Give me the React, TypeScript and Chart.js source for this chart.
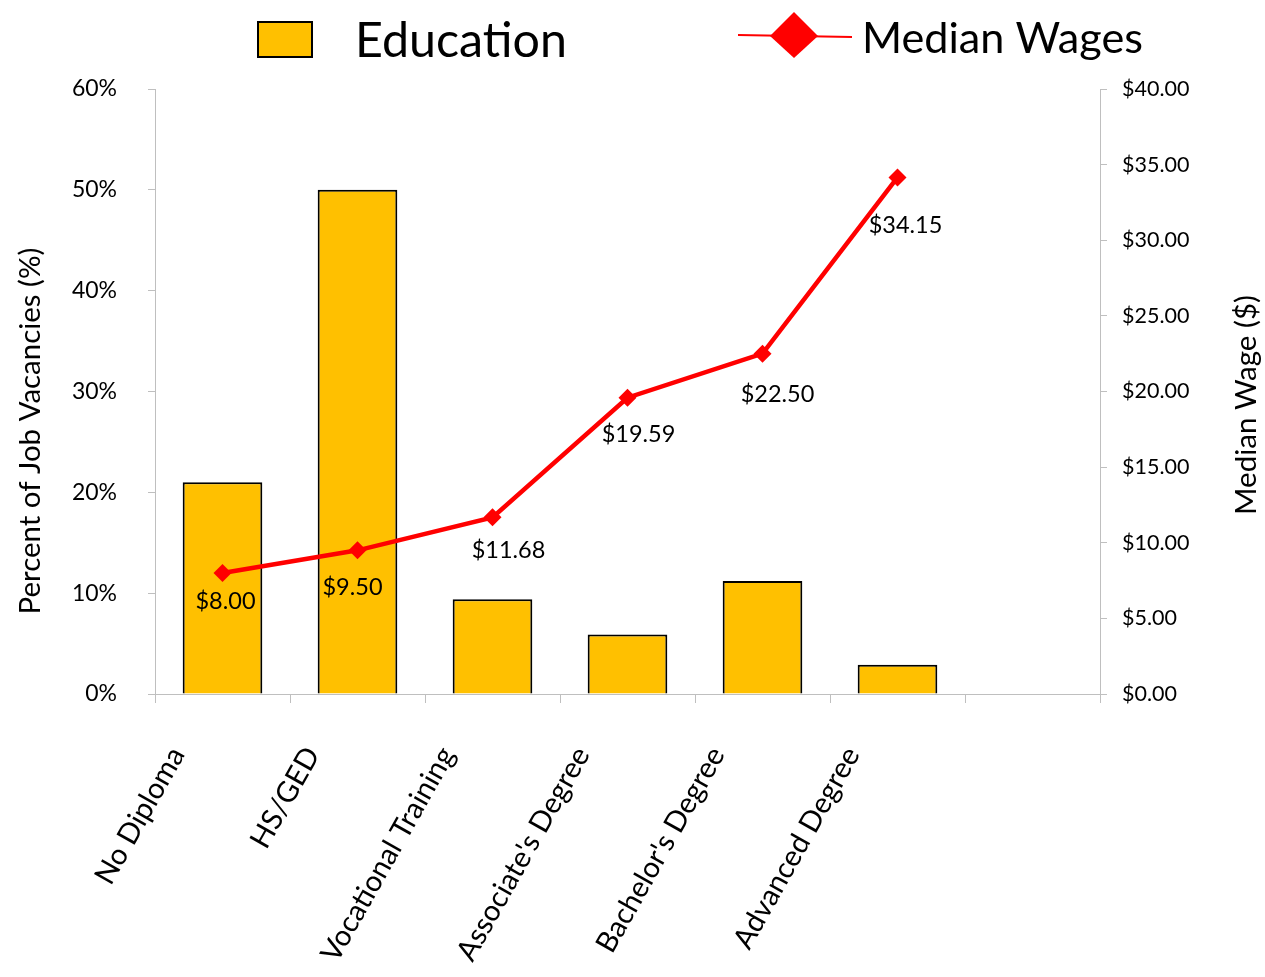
import React, { useEffect, useRef } from "react";
import { Chart, registerables } from "chart.js";

Chart.register(...registerables);

const categories = [
  "No Diploma",
  "HS/GED",
  "Vocational Training",
  "Associate's Degree",
  "Bachelor's Degree",
  "Advanced Degree",
  "",
];
const educationShare = [21, 50, 9.4, 5.9, 11.2, 2.9, null];
const medianWages = [8.0, 9.5, 11.68, 19.59, 22.5, 34.15, null];
const wageLabels = ["$8.00", "$9.50", "$11.68", "$19.59", "$22.50", "$34.15"];
const wageLabelNudge = [
  [3, 28],
  [-5, 37],
  [16, 33],
  [11, 37],
  [15, 41],
  [8, 48],
];

const FONT = "Lato, 'Open Sans', sans-serif";
const GRAY = "#BFBFBF";
const BAR_FILL = "#FFC000";
const LINE_RED = "#FF0000";

function fitFontSize(ctx: CanvasRenderingContext2D, text: string, width: number) {
  ctx.font = `100px ${FONT}`;
  const w = ctx.measureText(text).width;
  return (100 * width) / w;
}

const decorPlugin = {
  id: "decor",
  afterDatasetsDraw(chart: any) {
    const ctx: CanvasRenderingContext2D = chart.ctx;
    const meta = chart.getDatasetMeta(1);
    ctx.save();
    ctx.fillStyle = "#000";
    ctx.font = `23.5px ${FONT}`;
    ctx.textAlign = "center";
    ctx.textBaseline = "middle";
    meta.data.forEach((pt: any, i: number) => {
      if (i >= wageLabels.length) return;
      const [dx, dy] = wageLabelNudge[i];
      ctx.fillText(wageLabels[i], pt.x + dx, pt.y + dy);
    });
    ctx.restore();
  },
  afterDraw(chart: any) {
    const ctx: CanvasRenderingContext2D = chart.ctx;
    ctx.save();
    // Legend: Education
    ctx.fillStyle = BAR_FILL;
    ctx.strokeStyle = "#000";
    ctx.lineWidth = 2;
    ctx.fillRect(258, 22, 54, 35);
    ctx.strokeRect(258, 22, 54, 35);
    ctx.fillStyle = "#000";
    ctx.textBaseline = "alphabetic";
    ctx.textAlign = "left";
    let fs = fitFontSize(ctx, "Education", 212);
    ctx.font = `${fs}px ${FONT}`;
    ctx.fillText("Education", 355, 57);
    // Legend: Median Wages
    ctx.strokeStyle = LINE_RED;
    ctx.lineWidth = 2;
    ctx.beginPath();
    ctx.moveTo(738, 35);
    ctx.lineTo(852, 37);
    ctx.stroke();
    ctx.fillStyle = LINE_RED;
    ctx.beginPath();
    ctx.moveTo(794, 12);
    ctx.lineTo(818, 36);
    ctx.lineTo(794, 58);
    ctx.lineTo(770, 36);
    ctx.closePath();
    ctx.fill();
    ctx.fillStyle = "#000";
    fs = fitFontSize(ctx, "Median Wages", 281);
    ctx.font = `${fs}px ${FONT}`;
    ctx.fillText("Median Wages", 862, 53);

    // Axis titles
    ctx.textAlign = "center";
    ctx.textBaseline = "middle";
    fs = fitFontSize(ctx, "Percent of Job Vacancies (%)", 367);
    ctx.font = `${fs}px ${FONT}`;
    ctx.translate(31, 431);
    ctx.rotate(-Math.PI / 2);
    ctx.fillText("Percent of Job Vacancies (%)", 0, 0);
    ctx.setTransform(1, 0, 0, 1, 0, 0);
    fs = fitFontSize(ctx, "Median Wage ($)", 220);
    ctx.font = `${fs}px ${FONT}`;
    ctx.translate(1246, 405);
    ctx.rotate(-Math.PI / 2);
    ctx.fillText("Median Wage ($)", 0, 0);
    ctx.restore();
  },
};

export default function App() {
  const canvasRef = useRef<HTMLCanvasElement | null>(null);

  useEffect(() => {
    if (!canvasRef.current) return;
    const chart = new Chart(canvasRef.current, {
      type: "bar",
      data: {
        labels: categories,
        datasets: [
          {
            type: "bar",
            label: "Education",
            data: educationShare,
            backgroundColor: BAR_FILL,
            borderColor: "#000",
            borderWidth: 2,
            yAxisID: "y",
            categoryPercentage: 1,
            barPercentage: 0.59,
            order: 2,
          },
          {
            type: "line",
            label: "Median Wages",
            data: medianWages,
            borderColor: LINE_RED,
            backgroundColor: LINE_RED,
            borderWidth: 4.5,
            pointStyle: "rectRot",
            pointRadius: 9,
            pointBorderWidth: 0,
            pointBackgroundColor: LINE_RED,
            yAxisID: "y2",
            tension: 0,
            order: 1,
          },
        ],
      },
      options: {
        animation: false,
        responsive: true,
        maintainAspectRatio: false,
        layout: { padding: { top: 89, left: 0, right: 0, bottom: 0 } },
        plugins: {
          legend: { display: false },
          tooltip: { enabled: false },
        },
        scales: {
          x: {
            offset: true,
            grid: {
              offset: true,
              drawOnChartArea: false,
              tickLength: 9,
              color: GRAY,
            },
            border: { color: GRAY },
            ticks: {
              autoSkip: false,
              minRotation: 60.5,
              maxRotation: 60.5,
              padding: 38,
              labelOffset: -45,
              color: "#000",
              font: { family: FONT, size: 29 },
            },
            afterFit(scale: any) {
              scale.height = 283;
            },
          },
          y: {
            position: "left",
            min: 0,
            max: 60,
            ticks: {
              stepSize: 10,
              padding: 31,
              color: "#000",
              font: { family: FONT, size: 23 },
              callback: (v: any) => `${v}%`,
            },
            grid: { drawOnChartArea: false, tickLength: 7, color: GRAY },
            border: { color: GRAY },
            afterFit(scale: any) {
              scale.width = 155;
            },
          },
          y2: {
            position: "right",
            min: 0,
            max: 40,
            ticks: {
              stepSize: 5,
              padding: 15,
              color: "#000",
              font: { family: FONT, size: 21.5 },
              callback: (v: any) => `$${Number(v).toFixed(2)}`,
            },
            grid: { drawOnChartArea: false, tickLength: 7, color: GRAY },
            border: { color: GRAY },
            afterFit(scale: any) {
              scale.width = 165;
            },
          },
        },
      },
      plugins: [decorPlugin],
    });
    return () => chart.destroy();
  }, []);

  return (
    <div
      style={{
        position: "fixed",
        left: 0,
        top: 0,
        width: 1265,
        height: 977,
        background: "#fff",
      }}
    >
      <canvas ref={canvasRef} />
    </div>
  );
}
